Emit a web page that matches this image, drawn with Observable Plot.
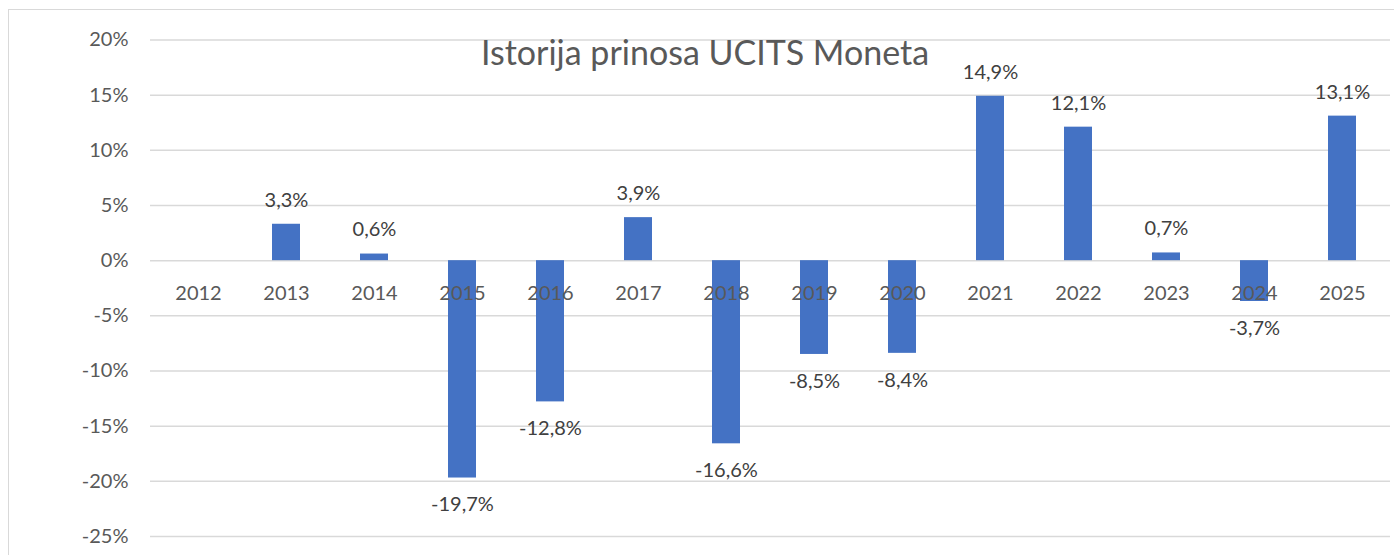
<!DOCTYPE html>
<html>
<head>
<meta charset="utf-8">
<script src="https://cdn.jsdelivr.net/npm/d3@7"></script>
<script src="https://cdn.jsdelivr.net/npm/@observablehq/plot@0.6"></script>
<style>
  html, body { margin: 0; padding: 0; background: #fff; overflow: hidden; }
  #wrap { position: relative; width: 1394px; height: 555px; }
  #border { position: absolute; left: 8px; top: 9px; width: 1400px; height: 600px; border: 1.5px solid #d9d9d9; box-sizing: border-box; }
  #title { position: absolute; left: 0; width: 1410px; top: 31px; text-align: center; font-family: Lato, sans-serif; font-size: 34px; color: #595959; }
  #chart { position: absolute; left: 0; top: 0; }
</style>
</head>
<body>
<div id="wrap">
  <div id="border"></div>
  <div id="chart"></div>
  <div id="title">Istorija prinosa UCITS Moneta</div>
</div>
<script>
const years = ["2012","2013","2014","2015","2016","2017","2018","2019","2020","2021","2022","2023","2024","2025"];
const returns = [null, 3.3, 0.6, -19.7, -12.8, 3.9, -16.6, -8.5, -8.4, 14.9, 12.1, 0.7, -3.7, 13.1];
const yTicks = [-25, -20, -15, -10, -5, 0, 5, 10, 15, 20];

const data = years.map((y, i) => ({year: y, value: returns[i]}));
const withVal = data.filter(d => d.value != null);
const pos = withVal.filter(d => d.value >= 0);
const neg = withVal.filter(d => d.value < 0);
const fmt = v => v.toFixed(1).replace(".", ",") + "%";

const chart = Plot.plot({
  width: 1394,
  height: 555,
  marginLeft: 150,
  marginRight: 4,
  marginTop: 39.5,
  marginBottom: 19,
  style: { fontFamily: "Lato, sans-serif", fontSize: "20px", color: "#595959", background: "transparent" },
  x: { domain: years, paddingInner: 0.685, paddingOuter: 0.3425, axis: null },
  y: { domain: [-25, 20], ticks: yTicks, tickFormat: d => d + "%", tickSize: 0, tickPadding: 22, label: null },
  marks: [
    Plot.gridY(yTicks, { stroke: "#d9d9d9", strokeOpacity: 1, strokeWidth: 1.5 }),
    Plot.barY(withVal, { x: "year", y: "value", fill: "#4472C4" }),
    Plot.text(years, { x: d => d, y: () => 0, dy: 33, fill: "#595959", fontSize: 20 }),
    Plot.text(pos, { x: "year", y: "value", text: d => fmt(d.value), dy: -24, fill: "#404040", fontSize: 20 }),
    Plot.text(neg, { x: "year", y: "value", text: d => fmt(d.value), dy: 27, fill: "#404040", fontSize: 20 })
  ]
});
document.getElementById("chart").appendChild(chart);
</script>
</body>
</html>
